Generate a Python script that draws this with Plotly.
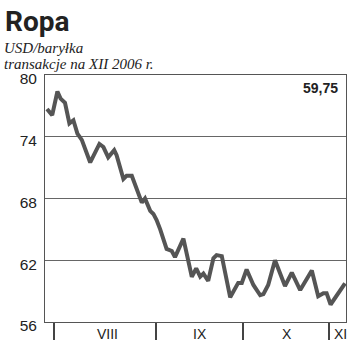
import plotly.graph_objects as go

# trading-day index (approximate) and price USD/barrel
days = [0, 1.3, 2.6, 3.4, 4.5, 5.6, 6.6, 7.6, 8.7, 10.8, 13.1, 14.1, 15.3, 16.8, 17.4,
        19.1, 19.9, 21.2, 23.7, 24.5, 25.8, 26.6, 27.4, 28.3, 29.9, 31.2, 32, 34.1,
        36.2, 37.3, 38.3, 39.1, 40.3, 41.6, 42.4, 43.7, 45.8, 47.8, 48.7, 49.9, 51.6,
        53.3, 54.1, 55.3, 57, 59.5, 61.2, 62, 63.3, 66.2, 67.8, 69.1, 69.9, 70.9, 74.5]
price = [76.7, 76.1, 78.4, 77.7, 77.3, 75.3, 75.6, 74.3, 73.7, 71.5, 73.3, 73.0, 72.0, 72.7, 72.2,
         69.9, 70.2, 70.2, 67.6, 68.0, 66.8, 66.5, 65.9, 65.0, 63.1, 62.9, 62.3, 64.1,
         60.4, 61.2, 60.4, 60.7, 60.0, 62.2, 62.5, 62.4, 58.4, 59.8, 59.8, 61.1, 59.6,
         58.6, 58.7, 59.6, 62.0, 59.5, 60.8, 60.2, 59.1, 61.0, 58.5, 58.8, 58.8, 57.7, 59.75]

month_bounds = [1.75, 27.25, 49, 70.5]
month_label_pos = [15, 38.25, 60, 73.25]
month_labels = ["VIII", "IX", "X", "XI"]
y_ticks = [56, 62, 68, 74, 80]
last_value_text = "59,75"
title_text = "Ropa"
subtitle_lines = ["USD/baryłka", "transakcje na XII 2006 r."]

fig = go.Figure()
fig.add_trace(go.Scatter(x=days, y=price, mode="lines",
                         line=dict(color="#555555", width=4), hoverinfo="skip"))

fig.update_layout(
    width=350, height=355,
    margin=dict(l=45, r=4, t=75, b=33),
    paper_bgcolor="white", plot_bgcolor="white",
    showlegend=False,
    font=dict(family="Liberation Sans, Arial, sans-serif", color="#222"),
)
fig.update_xaxes(range=[-0.5, 74.75], tickvals=month_bounds, ticktext=["" for _ in month_bounds],
                 ticks="outside", ticklen=17, tickwidth=1.5, tickcolor="#444",
                 showline=True, linecolor="#555", linewidth=1, mirror=True,
                 showgrid=False, zeroline=False)
fig.update_yaxes(range=[56, 80], tickvals=y_ticks, ticks="", ticklabelstandoff=4,
                 ticklabelshift=4,
                 tickfont=dict(size=15.5, color="#222"),
                 showline=True, linecolor="#555", linewidth=1, mirror=True,
                 showgrid=True, gridcolor="#666", gridwidth=1, zeroline=False)

for pos, lab in zip(month_label_pos, month_labels):
    fig.add_annotation(x=pos, y=0, xref="x", yref="paper", text=lab, showarrow=False,
                       yanchor="middle", yshift=-12, font=dict(size=14, color="#222"))

fig.add_annotation(x=1, y=1, xref="paper", yref="paper", text="<b>" + last_value_text + "</b>",
                   showarrow=False, xanchor="right", yanchor="top", xshift=-6, yshift=-3,
                   font=dict(size=14, color="#222"))

fig.add_annotation(x=0, y=1, xref="paper", yref="paper", xanchor="left", yanchor="top",
                   text="<b>" + title_text + "</b>", showarrow=False, xshift=-42, yshift=72,
                   font=dict(family="Roboto, sans-serif", size=28, color="#222"))
for i, line in enumerate(subtitle_lines):
    fig.add_annotation(x=0, y=1, xref="paper", yref="paper", xanchor="left", yanchor="top",
                       text="<i>" + line + "</i>", showarrow=False,
                       xshift=-43, yshift=37 - 16 * i, align="left",
                       font=dict(family="Liberation Serif, serif", size=15, color="#222"))

fig.write_html("out.html")
